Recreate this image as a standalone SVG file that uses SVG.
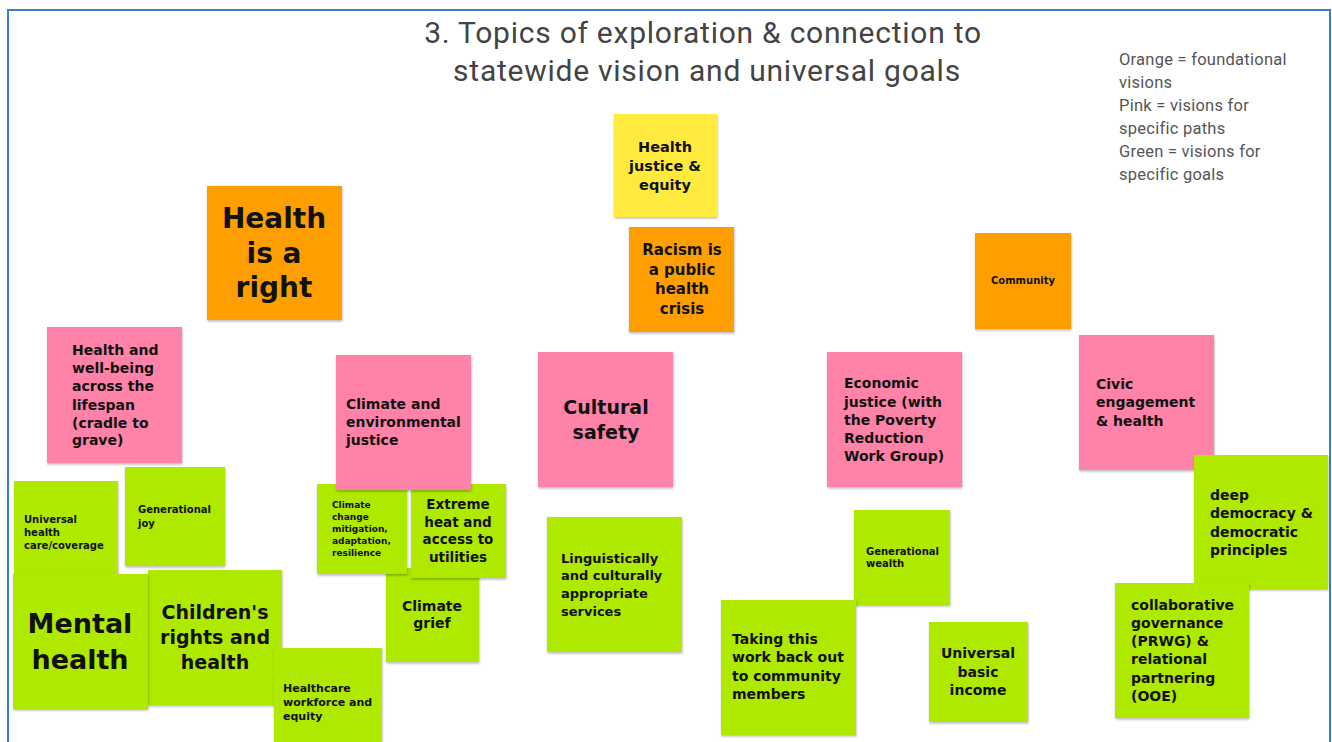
<svg xmlns="http://www.w3.org/2000/svg" width="1332" height="742" viewBox="0 0 1332 742">
<defs>
<filter id="sh" x="-5%" y="-5%" width="115%" height="115%">
<feDropShadow dx="0.5" dy="1.5" stdDeviation="1.2" flood-color="#000" flood-opacity="0.28"/>
</filter>
<style>
.o{fill:#FF9E00;filter:url(#sh)}
.p{fill:#FF82A9;filter:url(#sh)}
.g{fill:#AFE900;filter:url(#sh)}
.y{fill:#FFEA3C;filter:url(#sh)}
text{font-family:"DejaVu Sans","Liberation Sans",sans-serif;font-weight:bold;fill:#111}
.c{text-anchor:middle}
.title{font-family:Roboto,"Liberation Sans",sans-serif;font-weight:normal;fill:#444;font-size:30px;letter-spacing:0.75px}
.leg{font-family:Roboto,"Liberation Sans",sans-serif;font-weight:normal;fill:#555;font-size:16.5px;letter-spacing:0.25px}
</style>
</defs>
<rect x="0" y="0" width="1332" height="742" fill="#fff"/>
<path d="M8 742 V10 H1330 V742" fill="none" stroke="#3D7DD0" stroke-width="2"/>
<g id="title">
<text class="title c" x="703" y="43">3. Topics of exploration &amp; connection to</text>
<text class="title c" x="707" y="81">statewide vision and universal goals</text>
</g>
<g id="legend">
<text class="leg" x="1119" y="65">Orange = foundational</text>
<text class="leg" x="1119" y="88">visions</text>
<text class="leg" x="1119" y="111">Pink = visions for</text>
<text class="leg" x="1119" y="134">specific paths</text>
<text class="leg" x="1119" y="157">Green = visions for</text>
<text class="leg" x="1119" y="180">specific goals</text>
</g>
<g id="health-right">
<rect class="o" x="207" y="186" width="135" height="134"/>
<text class="c" x="274" y="228" font-size="28">Health</text>
<text class="c" x="274" y="263" font-size="28">is a</text>
<text class="c" x="274" y="297" font-size="28">right</text>
</g>
<g id="health-justice">
<rect class="y" x="614" y="114" width="103" height="103"/>
<text class="c" x="665" y="152" font-size="14.5">Health</text>
<text class="c" x="665" y="171" font-size="14.5">justice &amp;</text>
<text class="c" x="665" y="190" font-size="14.5">equity</text>
</g>
<g id="racism">
<rect class="o" x="629" y="227" width="105" height="105"/>
<text class="c" x="682" y="255" font-size="15">Racism is</text>
<text class="c" x="682" y="275" font-size="15">a public</text>
<text class="c" x="682" y="294" font-size="15">health</text>
<text class="c" x="682" y="314" font-size="15">crisis</text>
</g>
<g id="community">
<rect class="o" x="975" y="233" width="96" height="96"/>
<text class="c" x="1023" y="284" font-size="10">Community</text>
</g>
<g id="wellbeing">
<rect class="p" x="47" y="327" width="135" height="136"/>
<text x="72" y="355" font-size="14">Health and</text>
<text x="72" y="373" font-size="14">well-being</text>
<text x="72" y="391" font-size="14">across the</text>
<text x="72" y="410" font-size="14">lifespan</text>
<text x="72" y="428" font-size="14">(cradle to</text>
<text x="72" y="445" font-size="14">grave)</text>
</g>
<g id="universal-care">
<rect class="g" x="14" y="481" width="104" height="100"/>
<text x="24" y="523" font-size="10">Universal</text>
<text x="24" y="536" font-size="10">health</text>
<text x="24" y="549" font-size="10">care/coverage</text>
</g>
<g id="gen-joy">
<rect class="g" x="125" y="467" width="100" height="99"/>
<text x="138" y="513" font-size="10">Generational</text>
<text x="138" y="527" font-size="10">joy</text>
</g>
<g id="childrens">
<rect class="g" x="148" y="570" width="134" height="135"/>
<text class="c" x="215" y="619" font-size="19">Children's</text>
<text class="c" x="215" y="644" font-size="19">rights and</text>
<text class="c" x="215" y="669" font-size="19">health</text>
</g>
<g id="mental">
<rect class="g" x="13" y="574" width="135" height="135"/>
<text class="c" x="80" y="633" font-size="27">Mental</text>
<text class="c" x="80" y="669" font-size="27">health</text>
</g>
<g id="workforce">
<rect class="g" x="274" y="648" width="108" height="100"/>
<text x="283" y="692" font-size="11">Healthcare</text>
<text x="283" y="706" font-size="11">workforce and</text>
<text x="283" y="720" font-size="11">equity</text>
</g>
<g id="climate-grief">
<rect class="g" x="386" y="568" width="93" height="94"/>
<text class="c" x="432" y="611" font-size="14">Climate</text>
<text class="c" x="432" y="628" font-size="14">grief</text>
</g>
<g id="climate-change">
<rect class="g" x="317" y="484" width="90" height="90"/>
<text x="332" y="508" font-size="9">Climate</text>
<text x="332" y="520" font-size="9">change</text>
<text x="332" y="532" font-size="9">mitigation,</text>
<text x="332" y="544" font-size="9">adaptation,</text>
<text x="332" y="556" font-size="9">resilience</text>
</g>
<g id="extreme-heat">
<rect class="g" x="411" y="484" width="95" height="94"/>
<text class="c" x="458" y="509" font-size="13.5">Extreme</text>
<text class="c" x="458" y="527" font-size="13.5">heat and</text>
<text class="c" x="458" y="544" font-size="13.5">access to</text>
<text class="c" x="458" y="562" font-size="13.5">utilities</text>
</g>
<g id="climate-env">
<rect class="p" x="336" y="355" width="135" height="135"/>
<text x="346" y="409" font-size="14">Climate and</text>
<text x="346" y="427" font-size="14">environmental</text>
<text x="346" y="445" font-size="14">justice</text>
</g>
<g id="cultural-safety">
<rect class="p" x="538" y="352" width="135" height="135"/>
<text class="c" x="606" y="414" font-size="19">Cultural</text>
<text class="c" x="606" y="439" font-size="19">safety</text>
</g>
<g id="linguistic">
<rect class="g" x="547" y="517" width="135" height="135"/>
<text x="561" y="563" font-size="13">Linguistically</text>
<text x="561" y="580" font-size="13">and culturally</text>
<text x="561" y="598" font-size="13">appropriate</text>
<text x="561" y="616" font-size="13">services</text>
</g>
<g id="economic">
<rect class="p" x="827" y="352" width="135" height="135"/>
<text x="844" y="388" font-size="14">Economic</text>
<text x="844" y="407" font-size="14">justice (with</text>
<text x="844" y="425" font-size="14">the Poverty</text>
<text x="844" y="443" font-size="14">Reduction</text>
<text x="844" y="461" font-size="14">Work Group)</text>
</g>
<g id="gen-wealth">
<rect class="g" x="854" y="510" width="96" height="95"/>
<text x="866" y="555" font-size="10" font-weight="normal">Generational</text>
<text x="866" y="567" font-size="10" font-weight="normal">wealth</text>
</g>
<g id="taking-work">
<rect class="g" x="721" y="600" width="135" height="135"/>
<text x="732" y="644" font-size="14">Taking this</text>
<text x="732" y="662" font-size="14">work back out</text>
<text x="732" y="681" font-size="14">to community</text>
<text x="732" y="699" font-size="14">members</text>
</g>
<g id="ubi">
<rect class="g" x="929" y="622" width="99" height="100"/>
<text class="c" x="978" y="658" font-size="14">Universal</text>
<text class="c" x="978" y="677" font-size="14">basic</text>
<text class="c" x="978" y="695" font-size="14">income</text>
</g>
<g id="civic">
<rect class="p" x="1079" y="335" width="135" height="135"/>
<text x="1096" y="389" font-size="14">Civic</text>
<text x="1096" y="407" font-size="14">engagement</text>
<text x="1096" y="426" font-size="14">&amp; health</text>
</g>
<g id="deep-democracy">
<rect class="g" x="1194" y="455" width="134" height="134"/>
<text x="1210" y="500" font-size="14">deep</text>
<text x="1210" y="518" font-size="14">democracy &amp;</text>
<text x="1210" y="537" font-size="14">democratic</text>
<text x="1210" y="555" font-size="14">principles</text>
</g>
<g id="collaborative">
<rect class="g" x="1115" y="583" width="134" height="135"/>
<text x="1131" y="610" font-size="14">collaborative</text>
<text x="1131" y="628" font-size="14">governance</text>
<text x="1131" y="646" font-size="14">(PRWG) &amp;</text>
<text x="1131" y="664" font-size="14">relational</text>
<text x="1131" y="683" font-size="14">partnering</text>
<text x="1131" y="701" font-size="14">(OOE)</text>
</g>
</svg>
